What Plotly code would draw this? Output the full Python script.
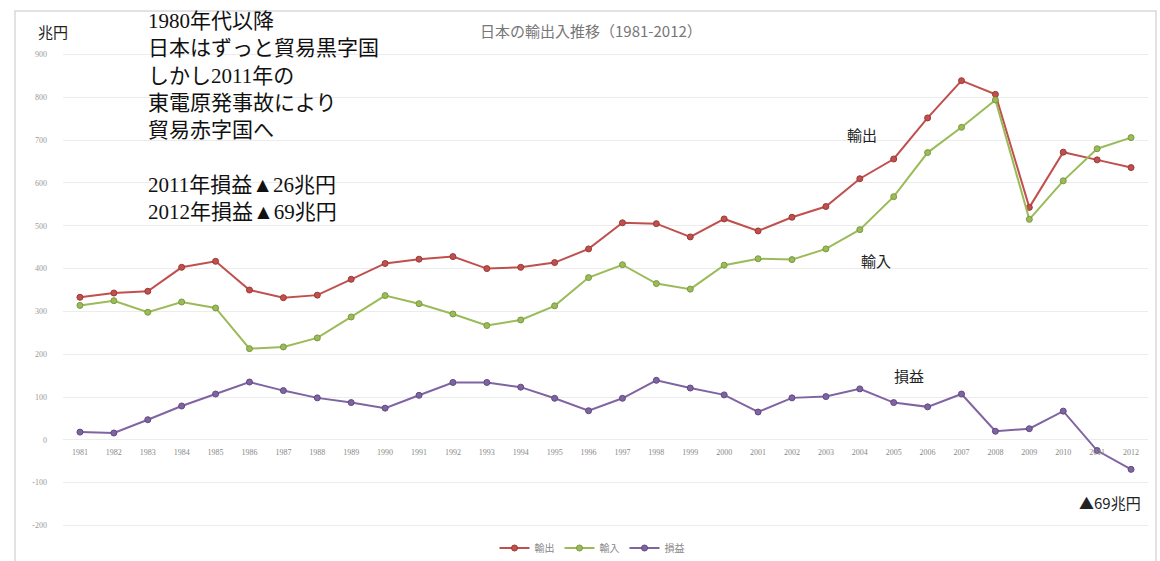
import plotly.graph_objects as go

years = list(range(1981, 2013))
year_labels = [str(y) for y in years]

exports = [333, 343, 347, 403, 417, 350, 332, 338, 375, 412,
           422, 428, 400, 403, 414, 446, 507, 505, 474, 516,
           488, 520, 545, 610, 656, 752, 839, 807, 543, 672,
           654, 636]
imports = [314, 325, 298, 322, 308, 213, 217, 238, 287, 337,
           318, 294, 267, 280, 313, 379, 409, 365, 352, 408,
           423, 421, 446, 491, 568, 671, 730, 794, 515, 605,
           680, 706]
balance = [18, 16, 47, 79, 107, 135, 115, 98, 87, 74,
           104, 134, 134, 123, 97, 68, 97, 139, 121, 105,
           65, 98, 101, 119, 87, 77, 107, 20, 26, 67,
           -25, -69]

series_names = ["輸出", "輸入", "損益"]
y_ticks = list(range(-200, 1000, 100))
y_range = [-220, 920]

colors = ["#C0504D", "#9BBB59", "#8064A2"]
edge = ["#9a3a37", "#7a9a40", "#5f4a80"]

W, H = 1160, 561
L, R, T, B = 63, 1148, 46, 534


def px_x(px):
    return (px - L) / (R - L)


def px_y(py):
    return (B - py) / (B - T)


fig = go.Figure()
for name, vals, c, e in zip(series_names, [exports, imports, balance], colors, edge):
    fig.add_trace(go.Scatter(
        x=years, y=vals, name=name, mode="lines+markers",
        line=dict(color=c, width=2),
        marker=dict(size=6, color=c, line=dict(color=e, width=1)),
    ))

cjk = "Noto Sans CJK JP"
zero_pos = (0 - y_range[0]) / (y_range[1] - y_range[0])

fig.update_layout(
    width=W, height=H,
    margin=dict(l=L, r=W - R, t=T, b=H - B, autoexpand=False),
    paper_bgcolor="white", plot_bgcolor="white",
    font=dict(family=cjk, color="#777"),
    showlegend=True,
    legend=dict(orientation="h", x=px_x(592), xanchor="center",
                y=px_y(548), yanchor="middle",
                font=dict(size=10, color="#888", family=cjk)),
    xaxis=dict(range=[1980.5, 2012.5], tickmode="array", tickvals=years,
               ticktext=year_labels, showgrid=False, zeroline=False,
               showline=False, anchor="free", position=zero_pos,
               tickfont=dict(size=8, color="#888", family="Liberation Serif"),
               ticklabelstandoff=6, ticks="", automargin=False),
    yaxis=dict(range=y_range, tickmode="array", tickvals=y_ticks,
               ticktext=[str(v) for v in y_ticks],
               showgrid=True, gridcolor="#ececec", gridwidth=1,
               zeroline=False, showline=False,
               tickfont=dict(size=8, color="#999", family="Liberation Serif"),
               ticklabelstandoff=15, ticks="", automargin=False),
)

# chart border
fig.add_shape(type="rect", xref="paper", yref="paper",
              x0=px_x(15), x1=px_x(1156), y0=px_y(575), y1=px_y(11),
              line=dict(color="#d9d9d9", width=1.5), fillcolor="rgba(0,0,0,0)",
              layer="below")

anns = [
    dict(text="兆円", x=px_x(53), y=px_y(32), xanchor="center", yanchor="middle",
         font=dict(size=15, color="#222", family=cjk)),
    dict(text="日本の輸出入推移（1981-2012）", x=px_x(591), y=px_y(31),
         xanchor="center", yanchor="middle",
         font=dict(size=15, color="#777", family=cjk)),
    dict(text="1980年代以降<br>日本はずっと貿易黒字国<br>しかし2011年の<br>東電原発事故により<br>貿易赤字国へ<br><br>2011年損益▲26兆円<br>2012年損益▲69兆円",
         x=px_x(146), y=px_y(116), xanchor="left", yanchor="middle", align="left",
         font=dict(size=21, color="#111", family="Liberation Serif, " + cjk)),
    dict(text="輸出", x=px_x(862), y=px_y(135), xanchor="center", yanchor="middle",
         font=dict(size=15, color="#222", family=cjk)),
    dict(text="輸入", x=px_x(876), y=px_y(260), xanchor="center", yanchor="middle",
         font=dict(size=15, color="#222", family=cjk)),
    dict(text="損益", x=px_x(909), y=px_y(375), xanchor="center", yanchor="middle",
         font=dict(size=15, color="#222", family=cjk)),
    dict(text="▲69兆円", x=px_x(1110), y=px_y(502), xanchor="center", yanchor="middle",
         font=dict(size=15, color="#222", family=cjk)),
]
for a in anns:
    fig.add_annotation(xref="paper", yref="paper", showarrow=False, **a)

fig.write_html("out.html", config={"displayModeBar": False},
               post_script="document.body.style.margin='0';")
